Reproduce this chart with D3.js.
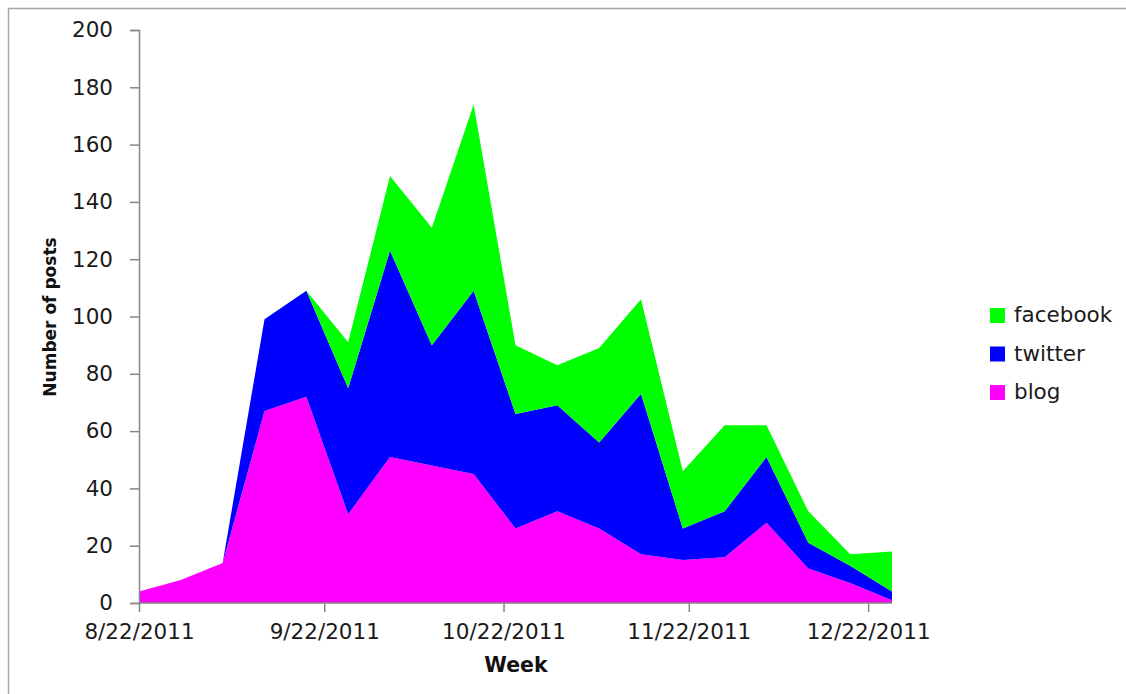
<!DOCTYPE html>
<html>
<head>
<meta charset="utf-8">
<script src="https://cdn.jsdelivr.net/npm/d3@7"></script>
<style>
  html, body { margin: 0; padding: 0; background: #fff; }
  svg { display: block; }
</style>
</head>
<body>
<svg id="chart" width="1126" height="694"></svg>
<script>
// ---- Data ----
const weeks = ["2011-08-22","2011-08-29","2011-09-05","2011-09-12","2011-09-19","2011-09-26",
               "2011-10-03","2011-10-10","2011-10-17","2011-10-24","2011-10-31","2011-11-07",
               "2011-11-14","2011-11-21","2011-11-28","2011-12-05","2011-12-12","2011-12-19","2011-12-26"];
const blog     = [4, 8, 14, 67, 72, 31, 51, 48, 45, 26, 32, 26, 17, 15, 16, 28, 12, 7, 1];
const twitter  = [0, 0, 0, 32, 37, 44, 72, 42, 64, 40, 37, 30, 56, 11, 16, 23, 9, 6, 3];
const facebook = [0, 0, 0, 0, 0, 16, 26, 41, 65, 24, 14, 33, 33, 20, 30, 11, 11, 4, 14];
const seriesNames = ["blog", "twitter", "facebook"];
const seriesColors = ["#ff00ff", "#0000ff", "#00ff00"];
const xTickDates = ["2011-08-22","2011-09-22","2011-10-22","2011-11-22","2011-12-22"];
const yTicks = [0, 20, 40, 60, 80, 100, 120, 140, 160, 180, 200];
const xTitle = "Week";
const yTitle = "Number of posts";

// ---- Setup ----
const parse = d3.utcParse("%Y-%m-%d");
const fmt = d3.utcFormat("%-m/%-d/%Y");
const svg = d3.select("#chart");

const rows = weeks.map((w, i) => ({ date: parse(w), blog: blog[i], twitter: twitter[i], facebook: facebook[i] }));

const x = d3.scaleUtc().domain([parse(weeks[0]), parse(weeks[weeks.length - 1])]).range([139, 892]);
const y = d3.scaleLinear().domain([0, 200]).range([603, 30]);
const color = d3.scaleOrdinal().domain(seriesNames).range(seriesColors);

// outer frame
svg.append("rect")
  .attr("x", 8.5).attr("y", 8.5).attr("width", 1300).attr("height", 1000)
  .attr("fill", "none").attr("stroke", "#a6a6a6").attr("stroke-width", 1.5);

// stacked areas
const stack = d3.stack().keys(seriesNames);
const layers = stack(rows);
const area = d3.area()
  .x(d => x(d.data.date))
  .y0(d => y(d[0]))
  .y1(d => y(d[1]));

svg.append("g").selectAll("path")
  .data(layers)
  .join("path")
  .attr("d", area)
  .attr("fill", d => color(d.key));

// axes
const axisColor = "#868686";
const yAxis = svg.append("g")
  .attr("transform", "translate(139,0)")
  .call(d3.axisLeft(y).tickValues(yTicks).tickSize(9).tickPadding(17).tickSizeOuter(9));
const xAxis = svg.append("g")
  .attr("transform", "translate(0,603)")
  .call(d3.axisBottom(x).tickValues(xTickDates.map(parse)).tickFormat(fmt).tickSize(9).tickPadding(12).tickSizeOuter(0));

[yAxis, xAxis].forEach(g => {
  g.selectAll("path.domain").attr("stroke", axisColor).attr("stroke-width", 1.5);
  g.selectAll(".tick line").attr("stroke", axisColor).attr("stroke-width", 1.5);
  g.selectAll("text")
    .attr("font-family", "'DejaVu Sans', Verdana, sans-serif")
    .attr("font-size", 21.5)
    .attr("fill", "#1a1a1a");
});
xAxis.selectAll("path.domain").attr("d", `M${x.range()[0]},0H${x.range()[1]}`);

// axis titles
svg.append("text")
  .attr("x", 516).attr("y", 672)
  .attr("text-anchor", "middle")
  .attr("font-family", "'DejaVu Sans', Verdana, sans-serif")
  .attr("font-weight", "bold")
  .attr("font-size", 20.5)
  .attr("fill", "#111")
  .text(xTitle);

svg.append("text")
  .attr("transform", "translate(56,317) rotate(-90)")
  .attr("text-anchor", "middle")
  .attr("font-family", "'DejaVu Sans', Verdana, sans-serif")
  .attr("font-weight", "bold")
  .attr("font-size", 17)
  .attr("fill", "#111")
  .text(yTitle);

// legend
const legendItems = seriesNames.slice().reverse();
const legend = svg.append("g").selectAll("g")
  .data(legendItems)
  .join("g")
  .attr("transform", (d, i) => `translate(990,${308 + i * 38.5})`);
legend.append("rect")
  .attr("width", 15).attr("height", 15)
  .attr("fill", d => color(d));
legend.append("text")
  .attr("x", 24).attr("y", 14)
  .attr("font-family", "'DejaVu Sans', Verdana, sans-serif")
  .attr("font-size", 21.5)
  .attr("fill", "#1a1a1a")
  .text(d => d);
</script>
</body>
</html>
